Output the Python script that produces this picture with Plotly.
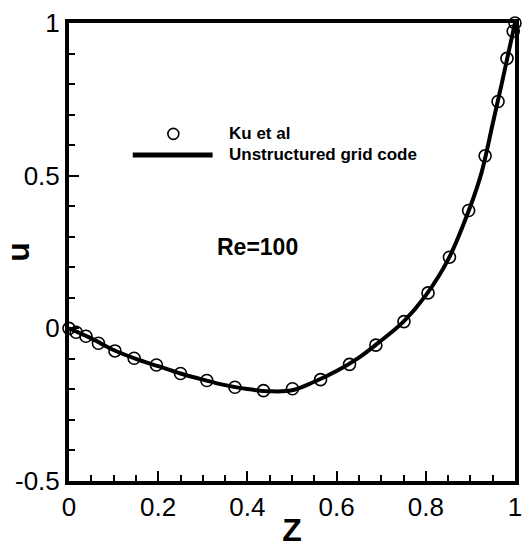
import plotly.graph_objects as go

# Ku et al. reference data (open circles)
z_ku = [0.0, 0.016, 0.038, 0.066, 0.103, 0.146, 0.196, 0.25, 0.309, 0.372, 0.436, 0.501,
        0.564, 0.629, 0.688, 0.751, 0.805, 0.853, 0.896, 0.933, 0.962, 0.982, 0.996, 1.0]
u_ku = [0.0, -0.013, -0.026, -0.049, -0.074, -0.098, -0.120, -0.148, -0.171, -0.193, -0.204, -0.198,
        -0.168, -0.118, -0.055, 0.022, 0.116, 0.233, 0.386, 0.565, 0.743, 0.884, 0.973, 1.0]

# Unstructured grid code (solid line)
z_code = [0.0, 0.05, 0.1, 0.15, 0.2, 0.25, 0.3, 0.35, 0.4, 0.45, 0.5, 0.55, 0.6, 0.65,
          0.7, 0.75, 0.8, 0.85, 0.9, 0.925, 0.95, 0.97, 0.985, 1.0]
u_code = [0.0, -0.033, -0.071, -0.100, -0.124, -0.148, -0.168, -0.186, -0.199, -0.206, -0.203,
          -0.175, -0.140, -0.096, -0.040, 0.022, 0.108, 0.225, 0.400, 0.51, 0.67, 0.80, 0.90, 1.0]

x_ticks = [0, 0.2, 0.4, 0.6, 0.8, 1]
x_ticktext = ["0", "0.2", "0.4", "0.6", "0.8", "1"]
y_ticks = [-0.5, 0, 0.5, 1]
y_ticktext = ["-0.5", "0", "0.5", "1"]

FONT = "Liberation Sans, Arial, sans-serif"

fig = go.Figure()
fig.add_trace(go.Scatter(x=z_code, y=u_code, mode="lines", line=dict(color="black", width=4, shape="spline"),
                         name="Unstructured grid code", showlegend=False, cliponaxis=False))
fig.add_trace(go.Scatter(x=z_ku, y=u_ku, mode="markers",
                         marker=dict(symbol="circle-open", size=12, color="black", line=dict(width=1.6)),
                         name="Ku et al", showlegend=False, cliponaxis=False))

# manual legend (paper coordinates)
fig.add_shape(type="line", xref="paper", yref="paper", x0=0.143, x1=0.322, y0=0.712, y1=0.712,
              line=dict(color="black", width=5))
fig.add_trace(go.Scatter(x=[0.234], y=[0.758], xaxis="x2", yaxis="y2", mode="markers",
                         marker=dict(symbol="circle-open", size=11, color="black", line=dict(width=1.6)),
                         showlegend=False, hoverinfo="skip"))
fig.add_annotation(text="<b>Ku et al</b>", xref="paper", yref="paper", x=0.354, y=0.758,
                   xanchor="left", yanchor="middle", showarrow=False,
                   font=dict(family=FONT, size=17, color="black"))
fig.add_annotation(text="<b>Unstructured grid code</b>", xref="paper", yref="paper", x=0.354, y=0.712,
                   xanchor="left", yanchor="middle", showarrow=False,
                   font=dict(family=FONT, size=17, color="black"))
fig.add_annotation(text="<b>Re=100</b>", xref="paper", yref="paper", x=0.423, y=0.51,
                   xanchor="center", yanchor="middle", showarrow=False,
                   font=dict(family=FONT, size=23, color="black"))

axis_common = dict(showgrid=False, zeroline=False, showline=True, linecolor="black", linewidth=4,
                   mirror=True, ticks="inside", ticklen=10, tickwidth=2, tickcolor="black",
                   automargin=False,
                   tickfont=dict(family=FONT, size=26, color="black"))

fig.update_layout(
    width=525, height=548,
    margin=dict(l=69, r=10, t=23, b=67),
    plot_bgcolor="white", paper_bgcolor="white",
    xaxis=dict(range=[0, 1], tickvals=x_ticks, ticktext=x_ticktext,
               minor=dict(dtick=0.05, ticks="inside", ticklen=6, tickwidth=2, tickcolor="black"),
               title=dict(text="<b>Z</b>", font=dict(family=FONT, size=32, color="black"), standoff=2),
               **axis_common),
    yaxis=dict(range=[-0.5, 1], tickvals=y_ticks, ticktext=y_ticktext,
               minor=dict(dtick=0.1, ticks="inside", ticklen=6, tickwidth=2, tickcolor="black"),
               title=dict(text="<b>u</b>", font=dict(family=FONT, size=32, color="black"), standoff=4),
               **axis_common),
    xaxis2=dict(range=[0, 1], domain=[0, 1], overlaying="x", visible=False, anchor="y2"),
    yaxis2=dict(range=[0, 1], domain=[0, 1], overlaying="y", visible=False, anchor="x2"),
    showlegend=False,
)

fig.write_html("out.html")
